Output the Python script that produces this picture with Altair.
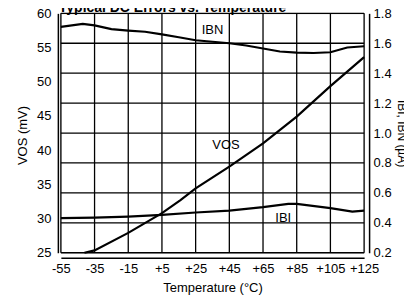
import altair as alt
import pandas as pd

# Data
vos_temp = [-41, -35, -15, 5, 16, 25, 45, 65, 85, 105, 125]
vos_mv = [25.0, 25.35, 27.9, 30.8, 32.7, 34.4, 37.6, 41.0, 44.9, 49.35, 53.6]

ibn_temp = [-55, -42, -35, -25, -15, -5, 5, 15, 25, 35, 45, 55, 65, 75, 85, 95, 105, 115, 125]
ibn_ua = [1.71, 1.73, 1.72, 1.695, 1.685, 1.677, 1.66, 1.64, 1.62, 1.61, 1.60, 1.585,
          1.565, 1.545, 1.538, 1.535, 1.54, 1.572, 1.58]

ibi_temp = [-55, -35, -15, 5, 25, 45, 65, 80, 85, 105, 118, 125]
ibi_ua = [0.431, 0.435, 0.442, 0.453, 0.469, 0.482, 0.505, 0.527, 0.527, 0.498, 0.475, 0.482]

x_ticks = [-55, -35, -15, 5, 25, 45, 65, 85, 105, 125]
left_ticks = [25, 30, 35, 40, 45, 50, 55, 60]
right_ticks = [0.2, 0.4, 0.6, 0.8, 1.0, 1.2, 1.4, 1.6, 1.8]

labels_left = pd.DataFrame({"t": [43], "v": [40.75], "label": ["VOS"]})
labels_right = pd.DataFrame({"t": [35, 77], "v": [1.687, 0.433], "label": ["IBN", "IBI"]})
title_df = pd.DataFrame({"label": ["Typical DC Errors vs. Temperature"]})

FONT = "Liberation Sans"

vos_df = pd.DataFrame({"t": vos_temp, "v": vos_mv})
ib_df = pd.concat([
    pd.DataFrame({"t": ibn_temp, "v": ibn_ua, "s": "IBN"}),
    pd.DataFrame({"t": ibi_temp, "v": ibi_ua, "s": "IBI"}),
])
vgrid_df = pd.DataFrame({"t": x_ticks})
hgrid_df = pd.DataFrame({"v": right_ticks})

xscale = alt.Scale(domain=[-55, 125], nice=False, zero=False)
xaxis = alt.Axis(values=x_ticks, tickCount=40, title="Temperature (°C)", grid=False,
                 labelExpr="(datum.value > 0 ? '+' : '') + datum.value",
                 labelOverlap=False, labelBound=False, labelFlush=False,
                 ticks=False, labelPadding=5, offset=5, domainColor="black",
                 domainWidth=1.5, labelFont=FONT, labelFontSize=13, labelColor="black",
                 titleFont=FONT, titleFontSize=13, titleFontWeight="normal",
                 titleColor="black", titlePadding=6)

left_scale = alt.Scale(domain=[25, 60], nice=False, zero=False)
left_axis = alt.Axis(values=left_ticks, tickCount=40, title="VOS (mV)", grid=False, ticks=False,
                     orient="left", offset=3, labelPadding=7, domainColor="black",
                     labelOverlap=False, labelBound=False, labelFlush=False,
                     domainWidth=1.5, labelFont=FONT, labelFontSize=13, labelColor="black",
                     titleFont=FONT, titleFontSize=13, titleFontWeight="normal",
                     titleColor="black", titleX=-28, titleY=122)

right_scale = alt.Scale(domain=[0.2, 1.8], nice=False, zero=False)
right_axis = alt.Axis(values=right_ticks, tickCount=40, title="IBI, IBN (µA)", grid=False,
                      ticks=False, orient="right", format=".1f", offset=5, labelPadding=4,
                      labelOverlap=False, labelBound=False, labelFlush=False,
                      domainColor="black", domainWidth=1.5, labelFont=FONT,
                      labelFontSize=13, labelColor="black", titleFont=FONT,
                      titleFontSize=12, titleFontWeight="normal", titleColor="black",
                      titlePadding=3)

vgrid = alt.Chart(vgrid_df).mark_rule(color="black", strokeWidth=1.3).encode(
    x=alt.X("t:Q", scale=xscale, axis=xaxis))

vos_line = alt.Chart(vos_df).mark_line(color="black", strokeWidth=2.2).encode(
    x=alt.X("t:Q", scale=xscale),
    y=alt.Y("v:Q", scale=left_scale, axis=left_axis),
)
vos_text = alt.Chart(labels_left).mark_text(font=FONT, fontSize=13, color="black").encode(
    x=alt.X("t:Q", scale=xscale), y=alt.Y("v:Q", scale=left_scale), text="label:N")
left = alt.layer(vgrid, vos_line, vos_text)

hgrid = alt.Chart(hgrid_df).mark_rule(color="black", strokeWidth=1.3).encode(
    y=alt.Y("v:Q", scale=right_scale, axis=right_axis))
ib_line = alt.Chart(ib_df).mark_line(color="black", strokeWidth=2.2).encode(
    x=alt.X("t:Q", scale=xscale),
    y=alt.Y("v:Q", scale=right_scale),
    detail="s:N",
)
ib_text = alt.Chart(labels_right).mark_text(font=FONT, fontSize=13, color="black").encode(
    x=alt.X("t:Q", scale=xscale), y=alt.Y("v:Q", scale=right_scale), text="label:N")
right = alt.layer(hgrid, ib_line, ib_text)

title = alt.Chart(title_df).mark_text(font=FONT, fontSize=14, fontWeight="bold",
                                      color="black", align="left", baseline="alphabetic").encode(
    x=alt.value(-2), y=alt.value(-1), text="label:N")

chart = alt.layer(left, right, title).resolve_scale(y="independent").properties(
    width=304, height=240,
    autosize=alt.AutoSizeParams(type="none"),
    padding={"left": 53, "top": 5, "right": 40, "bottom": 42},
).configure_view(stroke="black", strokeWidth=1.5).configure(background="white")

chart.save("out.html", embed_options={"renderer": "svg", "actions": False})
